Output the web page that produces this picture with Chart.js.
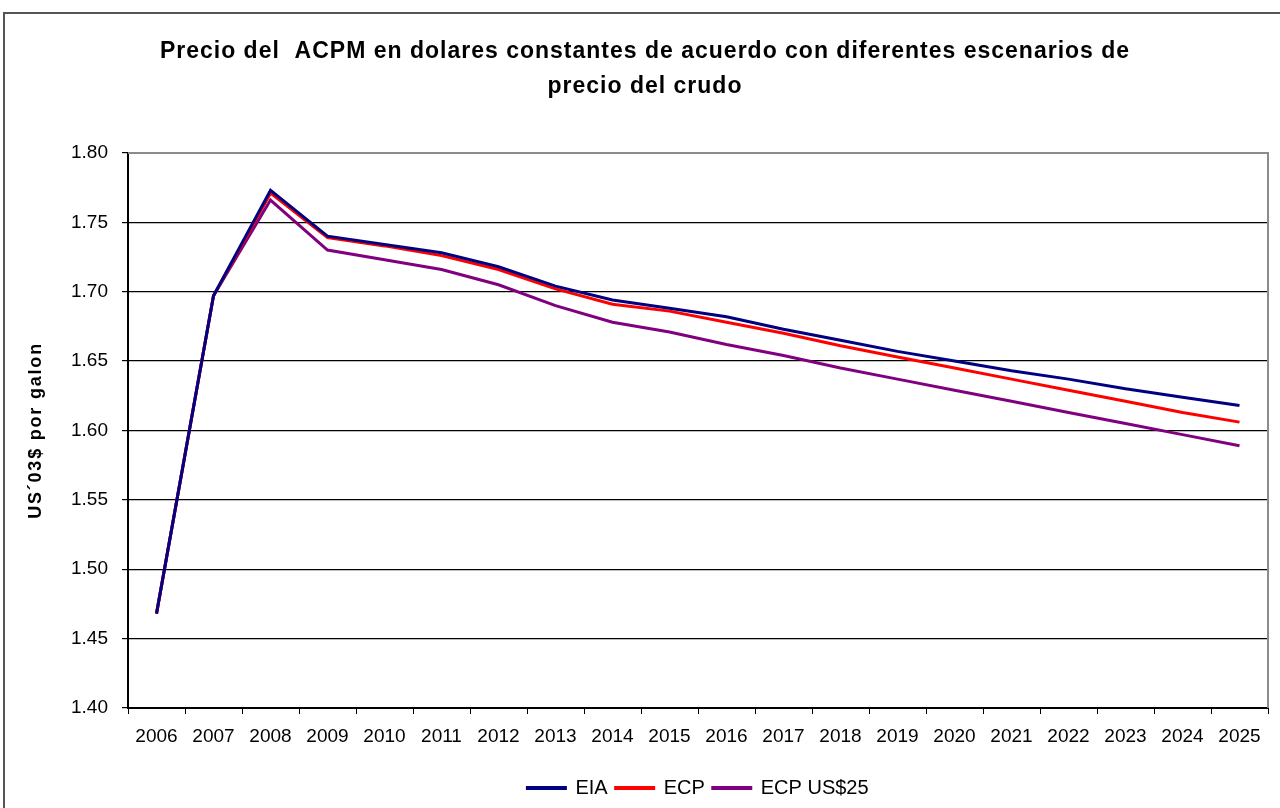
<!DOCTYPE html>
<html>
<head>
<meta charset="utf-8">
<title>Precio del ACPM</title>
<script src="https://cdn.jsdelivr.net/npm/chart.js@4/dist/chart.umd.min.js"></script>
<style>
  body { margin: 0; background: #fff; }
  #wrap { position: relative; width: 1280px; height: 808px; overflow: hidden; }
  #frame {
    position: absolute; left: 3px; top: 12px; right: -10px; bottom: -10px;
    border-top: 2px solid #555; border-left: 2px solid #555;
    pointer-events: none;
  }
</style>
</head>
<body>
<div id="wrap">
  <canvas id="acpmChart" width="1280" height="808"></canvas>
  <div id="frame"></div>
</div>
<script>
'use strict';

const years = ['2006', '2007', '2008', '2009', '2010', '2011', '2012', '2013', '2014', '2015',
  '2016', '2017', '2018', '2019', '2020', '2021', '2022', '2023', '2024', '2025'];

const eia = [1.468, 1.697, 1.773, 1.740, 1.734, 1.728, 1.718, 1.704, 1.694, 1.688,
  1.682, 1.673, 1.665, 1.657, 1.650, 1.643, 1.637, 1.630, 1.624, 1.618];

const ecp = [1.468, 1.697, 1.771, 1.739, 1.733, 1.726, 1.716, 1.702, 1.691, 1.686,
  1.678, 1.670, 1.661, 1.653, 1.645, 1.637, 1.629, 1.621, 1.613, 1.606];

const ecp25 = [1.468, 1.697, 1.766, 1.730, 1.723, 1.716, 1.705, 1.690, 1.678, 1.671,
  1.662, 1.654, 1.645, 1.637, 1.629, 1.621, 1.613, 1.605, 1.597, 1.589];

const FONT = '"Liberation Sans", Arial, sans-serif';

// wrap a draw method so its text gets some letter spacing
const spaced = function (obj, method, px) {
  if (obj[method]._spaced) return;
  const orig = obj[method];
  obj[method] = function () {
    const ctx = this.ctx;
    ctx.save();
    ctx.letterSpacing = px;
    orig.apply(this, arguments);
    ctx.restore();
  };
  obj[method]._spaced = true;
};

const tweaks = {
  id: 'tweaks',
  afterLayout(chart) {
    // legend and title sit a bit right of center in the original
    chart.legend.left += 64;
    chart.legend.right += 64;
    chart.titleBlock.left += 11;
    chart.titleBlock.right += 11;
    spaced(chart.titleBlock, 'draw', '1px');
    spaced(chart.scales.y, 'drawTitle', '1.8px');
  },
  afterDraw(chart) {
    // gray border on top/right of the plot area
    const a = chart.chartArea;
    const ctx = chart.ctx;
    ctx.save();
    ctx.strokeStyle = '#8c8c8c';
    ctx.lineWidth = 2;
    ctx.beginPath();
    ctx.moveTo(a.left, a.top);
    ctx.lineTo(a.right, a.top);
    ctx.lineTo(a.right, a.bottom);
    ctx.stroke();
    ctx.restore();
  }
};

const line = function (label, data, color) {
  return {
    label: label,
    data: data,
    borderColor: color,
    backgroundColor: color,
    borderWidth: 3,
    pointRadius: 0,
    tension: 0,
    fill: false
  };
};

new Chart(document.getElementById('acpmChart'), {
  type: 'line',
  data: {
    labels: years,
    datasets: [
      line('EIA', eia, '#000080'),
      line('ECP', ecp, '#ff0000'),
      line('ECP US$25', ecp25, '#800080')
    ]
  },
  options: {
    responsive: false,
    animation: false,
    layout: { padding: { left: 0, right: 12, top: 0, bottom: 0 } },
    plugins: {
      title: {
        display: true,
        text: ['Precio del  ACPM en dolares constantes de acuerdo con diferentes escenarios de', 'precio del crudo'],
        color: '#000',
        font: { family: FONT, size: 23, weight: 'bold', lineHeight: 1.52 },
        padding: { top: 34, bottom: 49 }
      },
      legend: {
        position: 'bottom',
        labels: {
          color: '#000',
          font: { family: FONT, size: 20 },
          boxWidth: 38,
          boxHeight: 1,
          padding: 8
        }
      },
      tooltip: { enabled: false }
    },
    scales: {
      x: {
        offset: true,
        afterFit(scale) { scale.height = 62; },
        grid: {
          drawOnChartArea: false,
          offset: true,
          color: '#000',
          tickLength: 6
        },
        border: { color: '#000', width: 2 },
        ticks: {
          color: '#000',
          font: { family: FONT, size: 19 },
          padding: 11,
          maxRotation: 0,
          autoSkip: false
        }
      },
      y: {
        min: 1.40,
        max: 1.80,
        afterFit(scale) { scale.width = 128; },
        grid: {
          color: '#000',
          lineWidth: 1.2,
          tickLength: 6
        },
        border: { color: '#000', width: 2 },
        ticks: {
          stepSize: 0.05,
          color: '#000',
          font: { family: FONT, size: 19 },
          padding: 14,
          callback: function (v) { return v.toFixed(2); }
        },
        title: {
          display: true,
          text: 'US´03$ por galon',
          color: '#000',
          font: { family: FONT, size: 18, weight: 'bold' },
          padding: { top: 25, bottom: 0 }
        }
      }
    }
  },
  plugins: [tweaks]
});
</script>
</body>
</html>
